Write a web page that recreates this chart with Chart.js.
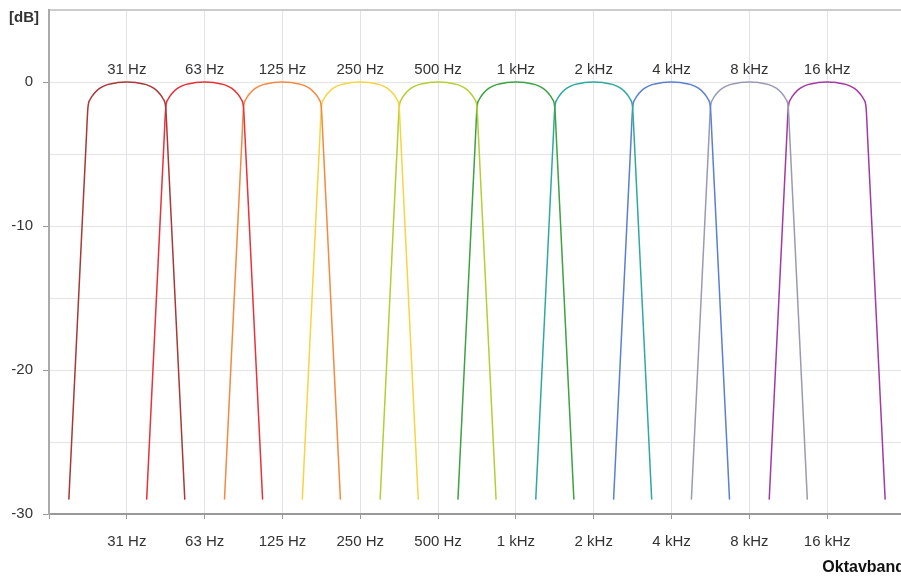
<!DOCTYPE html>
<html>
<head>
<meta charset="utf-8">
<script src="https://cdn.jsdelivr.net/npm/chart.js@4.4.1/dist/chart.umd.min.js"></script>
<style>
  html, body { margin: 0; padding: 0; background: #fff; overflow: hidden; }
  #wrap { width: 901px; height: 577px; overflow: hidden; position: relative; }
  canvas { display: block; position: absolute; left: 0; top: 0; }
</style>
</head>
<body>
<div id="wrap"><canvas id="chart" width="910" height="577"></canvas></div>
<script>
// octave bands (x = band index, 31 Hz = 0)
const bandLabels = ["31 Hz", "63 Hz", "125 Hz", "250 Hz", "500 Hz", "1 kHz", "2 kHz", "4 kHz", "8 kHz", "16 kHz"];
const bandColors = ["#a83838", "#e8323a", "#f28a42", "#f7d443", "#b4cf34", "#3da244", "#2fa9a0", "#5b7fd2", "#9a9ab4", "#a33aa3"];

// filter response, offset from band centre in octaves
const shapeOffset = [-0.745, -0.6, -0.52, -0.5, -0.47, -0.42, -0.35, -0.25, -0.12, 0, 0.12, 0.25, 0.35, 0.42, 0.47, 0.5, 0.52, 0.6, 0.745];
const shapeDb     = [-29, -12.8, -3.9, -1.8, -1.2, -0.8, -0.45, -0.18, -0.04, 0, -0.04, -0.18, -0.45, -0.8, -1.2, -1.8, -3.9, -12.8, -29];

const yTicks = [0, -10, -20, -30];

const FONT = "'Liberation Sans', Arial, sans-serif";
const TXT = "#333";

const datasets = bandLabels.map((lab, i) => ({
  label: lab,
  data: shapeOffset.map((o, k) => ({ x: i + o, y: shapeDb[k] })),
  borderColor: bandColors[i],
  borderWidth: 1.5,
  pointRadius: 0,
  fill: false,
  cubicInterpolationMode: "monotone"
}));

// band names above each peak + [dB] unit
const labelPlugin = {
  id: "bandNames",
  afterDatasetsDraw(chart) {
    const { ctx, scales } = chart;
    ctx.save();
    ctx.font = "15px " + FONT;
    ctx.fillStyle = TXT;
    ctx.textAlign = "center";
    ctx.textBaseline = "alphabetic";
    const y0 = scales.y.getPixelForValue(0);
    bandLabels.forEach((lab, i) => {
      ctx.fillText(lab, scales.x.getPixelForValue(i), y0 - 8);
    });
    ctx.font = "bold 15px " + FONT;
    ctx.textAlign = "left";
    ctx.textBaseline = "middle";
    ctx.fillText("[dB]", 9, 18);
    ctx.restore();
  }
};

new Chart(document.getElementById("chart"), {
  type: "line",
  data: { datasets },
  plugins: [labelPlugin],
  options: {
    responsive: false,
    animation: false,
    layout: { padding: { top: 10, right: 5, left: 0, bottom: 0 } },
    plugins: { legend: { display: false }, tooltip: { enabled: false } },
    scales: {
      x: {
        type: "linear",
        min: -1,
        max: 10,
        afterFit: s => { s.height = 63; s.paddingLeft = 0; s.paddingRight = 0; },
        afterBuildTicks: s => { s.ticks = Array.from({ length: 12 }, (_, k) => ({ value: k - 1 })); },
        ticks: {
          autoSkip: false,
          maxRotation: 0,
          padding: 14,
          font: { size: 15, family: FONT },
          color: TXT,
          callback: v => bandLabels[v] || ""
        },
        grid: {
          color: c => (c.tick && c.tick.value >= 0 && c.tick.value <= 9) ? "#e3e0ea" : "rgba(0,0,0,0)",
          tickColor: "#999",
          tickLength: 5,
          lineWidth: 1
        },
        border: { color: "#999", width: 2 },
        title: {
          display: true,
          text: "Oktavband",
          align: "end",
          color: "#111",
          font: { size: 16, weight: "bold", family: FONT },
          padding: { top: 0, bottom: 0 }
        }
      },
      y: {
        min: -30,
        max: 5,
        afterFit: s => { s.width = 49; s.paddingTop = 0; s.paddingBottom = 0; },
        ticks: {
          stepSize: 5,
          padding: 10,
          font: { size: 15, family: FONT },
          color: TXT,
          callback: v => yTicks.includes(v) ? String(v) : ""
        },
        grid: {
          color: c => (c.tick && c.tick.value === 5) ? "#cccccc" : "#e4e4e4",
          lineWidth: c => (c.tick && c.tick.value === 5) ? 2 : 1,
          tickColor: c => (c.tick && yTicks.includes(c.tick.value)) ? "#999" : "rgba(0,0,0,0)",
          tickLength: 6
        },
        border: { color: "#aaa", width: 2 }
      }
    }
  }
});
</script>
</body>
</html>
